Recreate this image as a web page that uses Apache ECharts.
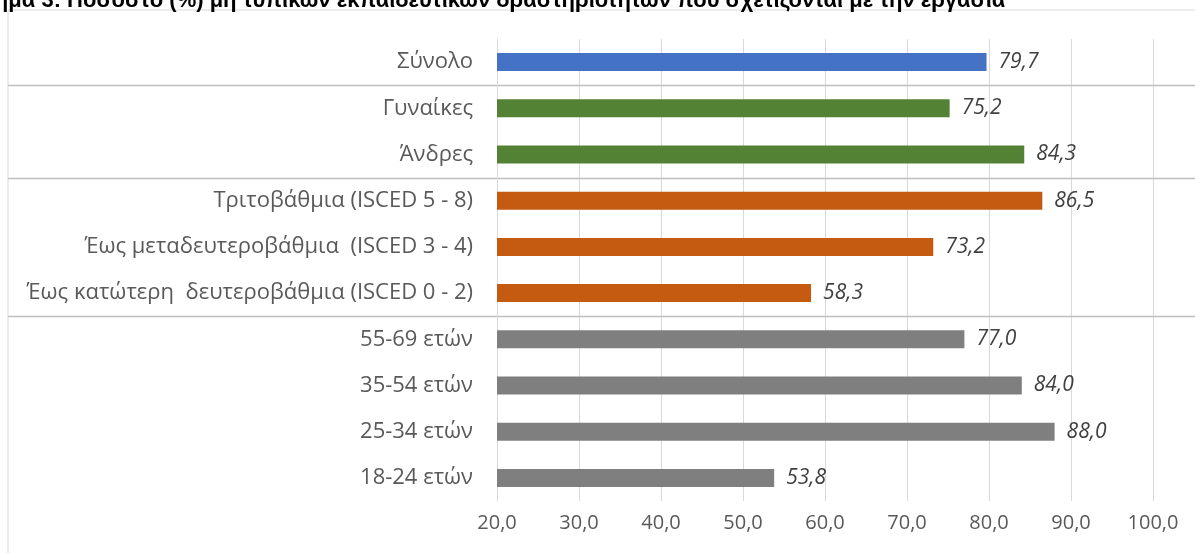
<!DOCTYPE html>
<html>
<head>
<meta charset="utf-8">
<script src="https://cdn.jsdelivr.net/npm/echarts@6/dist/echarts.min.js"></script>
<style>
html,body{margin:0;padding:0;background:#fff;}
#chart{width:1195px;height:553px;}
</style>
</head>
<body>
<div id="chart"></div>
<script>
const titleText = 'Σχήμα 3: Ποσοστό (%) μη τυπικών εκπαιδευτικών δραστηριοτήτων που σχετίζονται με την εργασία';
const categories = [
  'Σύνολο',
  'Γυναίκες',
  'Άνδρες',
  'Τριτοβάθμια (ISCED 5 - 8)',
  'Έως μεταδευτεροβάθμια  (ISCED 3 - 4)',
  'Έως κατώτερη  δευτεροβάθμια (ISCED 0 - 2)',
  '55-69 ετών',
  '35-54 ετών',
  '25-34 ετών',
  '18-24 ετών'
];
const values = [79.7, 75.2, 84.3, 86.5, 73.2, 58.3, 77.0, 84.0, 88.0, 53.8];
const groupOf = [0, 1, 1, 2, 2, 2, 3, 3, 3, 3];
const groupColors = ['#4472C4', '#548235', '#C55A11', '#7F7F7F'];
const separatorsAfter = [0, 2, 5];
const axisMin = 20, axisMax = 100, axisStep = 10;

const fmt = v => v.toFixed(1).replace('.', ',');
const chart = echarts.init(document.getElementById('chart'));
const option = {
  animation: false,
  grid: { left: 497, right: 42, top: 39, bottom: 52, containLabel: false },
  xAxis: {
    type: 'value', min: axisMin, max: axisMax, interval: axisStep,
    axisLine: { show: false }, axisTick: { show: false },
    splitLine: { show: true, lineStyle: { color: '#d9d9d9', width: 1 } },
    axisLabel: { formatter: v => fmt(v), color: '#595959', fontSize: 20, margin: 12, fontFamily: 'Open Sans' }
  },
  yAxis: {
    type: 'category', data: categories, inverse: true,
    axisLine: { show: true, lineStyle: { color: '#d9d9d9' } }, axisTick: { show: false },
    axisLabel: { color: '#595959', fontSize: 22, margin: 24, fontFamily: 'Open Sans' }
  },
  series: [{
    type: 'bar',
    barWidth: 18,
    data: values.map((v, i) => ({ value: v, itemStyle: { color: groupColors[groupOf[i]] } })),
    label: {
      show: true, position: 'right', distance: 12,
      formatter: p => fmt(p.value), fontStyle: 'italic', color: '#404040', fontSize: 21, fontFamily: 'Open Sans'
    }
  }]
};
chart.setOption(option);

const graphics = [
  { type: 'line', shape: { x1: 8, y1: 10, x2: 1195, y2: 10 }, style: { stroke: '#d9d9d9', lineWidth: 1 } },
  { type: 'line', shape: { x1: 8, y1: 10, x2: 8, y2: 553 }, style: { stroke: '#d9d9d9', lineWidth: 1 } },
  { type: 'text', x: -31, y: -10, style: { text: titleText, font: 'bold 22px "Liberation Sans"', fill: '#000' } }
];
separatorsAfter.forEach(i => {
  const y1 = chart.convertToPixel({ yAxisIndex: 0 }, categories[i]);
  const y2 = chart.convertToPixel({ yAxisIndex: 0 }, categories[i + 1]);
  const y = Math.round((y1 + y2) / 2) + 0.5;
  graphics.push({ type: 'line', shape: { x1: 8, y1: y, x2: 1195, y2: y }, style: { stroke: '#bfbfbf', lineWidth: 1.5 } });
});
chart.setOption({ graphic: graphics });
</script>
</body>
</html>
